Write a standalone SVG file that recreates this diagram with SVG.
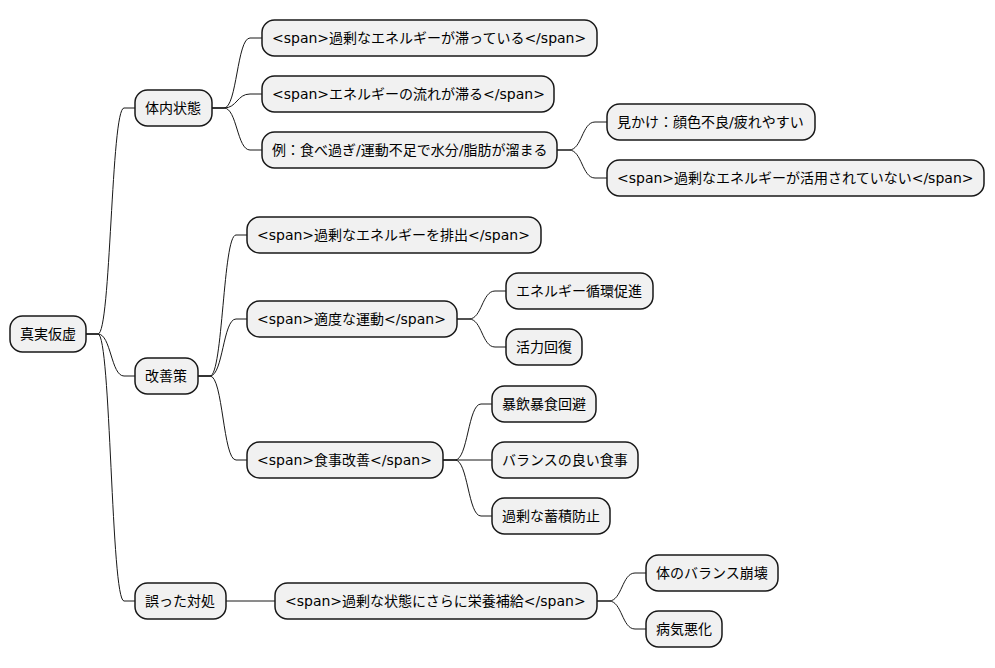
<svg xmlns="http://www.w3.org/2000/svg" width="995" height="668" viewBox="0 0 995 668">
<style>
.n rect{fill:#F1F1F1;stroke:#181818;stroke-width:1.5}
.n text{font-family:"DejaVu Sans","Noto Sans CJK JP",sans-serif;font-size:14px;fill:#000}
.c path{fill:none;stroke:#181818;stroke-width:1}
</style>
<rect width="995" height="668" fill="#FFFFFF"/>
<g class="c" id="connectors">
<path d="M86,334 L98,334 C111,334 111,108 124,108 L135,108"/>
<path d="M86,334 L98,334 C111,334 111,376 124,376 L135,376"/>
<path d="M86,334 L98,334 C111,334 111,601 124,601 L135,601"/>
<path d="M212,108 L224,108 C237,108 237,38 250,38 L262,38"/>
<path d="M212,108 L224,108 C237,108 237,94 250,94 L262,94"/>
<path d="M212,108 L224,108 C237,108 237,150 250,150 L262,150"/>
<path d="M557,150 L569,150 C582,150 582,122 595,122 L607,122"/>
<path d="M557,150 L569,150 C582,150 582,178 595,178 L607,178"/>
<path d="M198,376 L210,376 C223,376 223,235 236,235 L247,235"/>
<path d="M198,376 L210,376 C223,376 223,319 236,319 L247,319"/>
<path d="M198,376 L210,376 C223,376 223,460 236,460 L247,460"/>
<path d="M457,319 L469,319 C482,319 482,291 495,291 L506,291"/>
<path d="M457,319 L469,319 C482,319 482,347 495,347 L506,347"/>
<path d="M443,460 L455,460 C468,460 468,404 481,404 L492,404"/>
<path d="M443,460 L492,460"/>
<path d="M443,460 L455,460 C468,460 468,516 481,516 L492,516"/>
<path d="M226,601 L275,601"/>
<path d="M597,601 L609,601 C622,601 622,573 635,573 L646,573"/>
<path d="M597,601 L609,601 C622,601 622,629 635,629 L646,629"/>
</g>
<g class="n" id="root"><rect x="10" y="316" width="76" height="36" rx="12.5"/><text x="20" y="339">真実仮虚</text></g>
<g class="n" id="n1"><rect x="135" y="90" width="77" height="36" rx="12.5"/><text x="145" y="113">体内状態</text></g>
<g class="n" id="n1a"><rect x="262" y="20" width="335" height="36" rx="12.5"/><text x="272" y="43">&lt;span&gt;過剰なエネルギーが滞っている&lt;/span&gt;</text></g>
<g class="n" id="n1b"><rect x="262" y="76" width="292" height="36" rx="12.5"/><text x="272" y="99">&lt;span&gt;エネルギーの流れが滞る&lt;/span&gt;</text></g>
<g class="n" id="n1c"><rect x="262" y="132" width="295" height="36" rx="12.5"/><text x="272" y="155">例：食べ過ぎ/運動不足で水分/脂肪が溜まる</text></g>
<g class="n" id="n1c1"><rect x="607" y="104" width="208" height="36" rx="12.5"/><text x="617" y="127">見かけ：顔色不良/疲れやすい</text></g>
<g class="n" id="n1c2"><rect x="607" y="160" width="377" height="36" rx="12.5"/><text x="617" y="183">&lt;span&gt;過剰なエネルギーが活用されていない&lt;/span&gt;</text></g>
<g class="n" id="n2"><rect x="135" y="358" width="63" height="36" rx="12.5"/><text x="145" y="381">改善策</text></g>
<g class="n" id="n2a"><rect x="247" y="217" width="294" height="36" rx="12.5"/><text x="257" y="240">&lt;span&gt;過剰なエネルギーを排出&lt;/span&gt;</text></g>
<g class="n" id="n2b"><rect x="247" y="301" width="210" height="36" rx="12.5"/><text x="257" y="324">&lt;span&gt;適度な運動&lt;/span&gt;</text></g>
<g class="n" id="n2b1"><rect x="506" y="273" width="147" height="36" rx="12.5"/><text x="516" y="296">エネルギー循環促進</text></g>
<g class="n" id="n2b2"><rect x="506" y="329" width="76" height="36" rx="12.5"/><text x="516" y="352">活力回復</text></g>
<g class="n" id="n2c"><rect x="247" y="442" width="196" height="36" rx="12.5"/><text x="257" y="465">&lt;span&gt;食事改善&lt;/span&gt;</text></g>
<g class="n" id="n2c1"><rect x="492" y="386" width="104" height="36" rx="12.5"/><text x="502" y="409">暴飲暴食回避</text></g>
<g class="n" id="n2c2"><rect x="492" y="442" width="146" height="36" rx="12.5"/><text x="502" y="465">バランスの良い食事</text></g>
<g class="n" id="n2c3"><rect x="492" y="498" width="118" height="36" rx="12.5"/><text x="502" y="521">過剰な蓄積防止</text></g>
<g class="n" id="n3"><rect x="135" y="583" width="91" height="36" rx="12.5"/><text x="145" y="606">誤った対処</text></g>
<g class="n" id="n3a"><rect x="275" y="583" width="322" height="36" rx="12.5"/><text x="285" y="606">&lt;span&gt;過剰な状態にさらに栄養補給&lt;/span&gt;</text></g>
<g class="n" id="n3a1"><rect x="646" y="555" width="132" height="36" rx="12.5"/><text x="656" y="578">体のバランス崩壊</text></g>
<g class="n" id="n3a2"><rect x="646" y="611" width="76" height="36" rx="12.5"/><text x="656" y="634">病気悪化</text></g>
</svg>
